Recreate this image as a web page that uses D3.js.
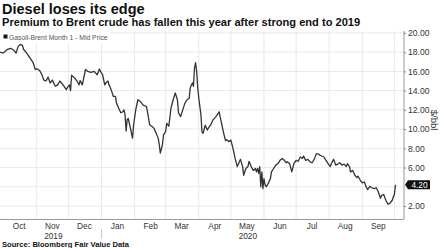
<!DOCTYPE html>
<html lang="en">
<head>
<meta charset="UTF-8">
<title>Diesel loses its edge</title>
<script src="https://d3js.org/d3.v7.min.js"></script>
<style>
  body { margin: 0; background: #fff; }
  text { font-family: "Liberation Sans", Arial, sans-serif; }
</style>
</head>
<body>
<svg width="441" height="248"></svg>
<script>
// Gasoil-Brent spread, $/bbl
const dates = [
  "2019-09-28","2019-10-01","2019-10-03","2019-10-05","2019-10-08","2019-10-11","2019-10-13","2019-10-15",
  "2019-10-17","2019-10-19","2019-10-20","2019-10-23","2019-10-26","2019-10-29","2019-10-31","2019-11-02",
  "2019-11-04","2019-11-06","2019-11-08","2019-11-10","2019-11-12","2019-11-14","2019-11-16","2019-11-18",
  "2019-11-19","2019-11-21","2019-11-23","2019-11-26","2019-11-29","2019-11-30","2019-12-02","2019-12-03",
  "2019-12-04","2019-12-07","2019-12-09","2019-12-11","2019-12-12","2019-12-14","2019-12-16","2019-12-17",
  "2019-12-19","2019-12-22","2019-12-25","2019-12-28","2019-12-30","2019-12-31","2020-01-02","2020-01-04",
  "2020-01-05","2020-01-07","2020-01-08","2020-01-10","2020-01-12","2020-01-14","2020-01-15","2020-01-17",
  "2020-01-19","2020-01-21","2020-01-22","2020-01-23","2020-01-24","2020-01-25","2020-01-26","2020-01-28",
  "2020-01-30","2020-01-31","2020-02-02","2020-02-04","2020-02-06","2020-02-09","2020-02-12","2020-02-13",
  "2020-02-15","2020-02-17","2020-02-19","2020-02-21","2020-02-23","2020-02-24","2020-02-25","2020-02-27",
  "2020-02-28","2020-03-01","2020-03-02","2020-03-04","2020-03-06","2020-03-08","2020-03-10","2020-03-12",
  "2020-03-13","2020-03-15","2020-03-17","2020-03-19","2020-03-21","2020-03-23","2020-03-24","2020-03-26",
  "2020-03-27","2020-03-28","2020-03-29","2020-03-30","2020-03-31","2020-04-01","2020-04-03","2020-04-04",
  "2020-04-05","2020-04-07","2020-04-09","2020-04-11","2020-04-12","2020-04-14","2020-04-17","2020-04-19",
  "2020-04-20","2020-04-22","2020-04-24","2020-04-26","2020-04-27","2020-04-29","2020-05-01","2020-05-03",
  "2020-05-05","2020-05-07","2020-05-09","2020-05-10","2020-05-12","2020-05-13","2020-05-15","2020-05-17",
  "2020-05-18","2020-05-20","2020-05-22","2020-05-24","2020-05-25","2020-05-26","2020-05-27","2020-05-28",
  "2020-05-29","2020-05-30","2020-05-31","2020-06-01","2020-06-02","2020-06-03","2020-06-05","2020-06-07",
  "2020-06-08","2020-06-10","2020-06-12","2020-06-14","2020-06-16","2020-06-18","2020-06-20","2020-06-22",
  "2020-06-23","2020-06-25","2020-06-27","2020-06-29","2020-07-01","2020-07-03","2020-07-05","2020-07-07",
  "2020-07-08","2020-07-10","2020-07-12","2020-07-14","2020-07-16","2020-07-18","2020-07-20","2020-07-22",
  "2020-07-23","2020-07-25","2020-07-27","2020-07-29","2020-07-31","2020-08-02","2020-08-03","2020-08-05",
  "2020-08-06","2020-08-07","2020-08-09","2020-08-11","2020-08-13","2020-08-15","2020-08-17","2020-08-18",
  "2020-08-20","2020-08-21","2020-08-23","2020-08-25","2020-08-27","2020-08-28","2020-08-30","2020-09-01",
  "2020-09-03","2020-09-04","2020-09-06","2020-09-08","2020-09-10","2020-09-12","2020-09-14","2020-09-16",
  "2020-09-18","2020-09-19","2020-09-21","2020-09-23","2020-09-25","2020-09-27","2020-09-29","2020-09-30",
  "2020-10-01","2020-10-02"
];
const values = [
  18.0, 17.9, 18.1, 18.3, 18.4, 18.2, 17.9, 18.6,
  18.8, 18.7, 18.3, 17.9, 17.4, 16.9, 16.2, 16.25,
  16.1, 15.7, 15.1, 15.0, 15.4, 14.8, 15.1, 14.6,
  14.45, 14.6, 15.0, 14.6, 14.1, 14.3, 14.6, 14.0,
  15.6, 15.3, 15.0, 14.6, 15.05, 14.6, 15.65, 16.2,
  16.0, 15.9, 16.0, 15.65, 16.25, 16.0, 15.65, 14.6,
  14.8, 15.0, 14.6, 14.1, 13.4, 13.4, 12.7, 12.2,
  11.7, 11.8, 12.0, 11.5, 9.8, 11.0, 11.1, 10.1,
  9.06, 10.45, 12.0, 13.05, 12.9, 12.5, 12.35, 11.8,
  10.45, 10.3, 10.1, 9.6, 9.06, 8.4, 7.5, 8.4,
  9.4, 9.75, 10.6, 10.3, 12.2, 13.05, 13.75, 13.05,
  11.7, 11.3, 12.0, 12.7, 13.05, 13.2, 14.3, 14.8,
  14.45, 16.35, 16.9, 16.0, 14.3, 13.2, 11.5, 9.7,
  9.55, 10.4, 9.9, 10.3, 10.4, 10.9, 11.3, 11.6,
  11.8, 10.75, 9.7, 8.8, 8.9, 8.7, 8.85, 8.0,
  6.95, 6.1, 6.6, 6.85, 6.1, 5.2, 5.9, 6.1,
  6.65, 6.1, 5.7, 5.9, 5.55, 5.9, 5.4, 6.1,
  4.0, 5.55, 3.8, 4.85, 4.2, 4.0, 4.35, 4.85,
  5.55, 5.9, 6.25, 6.4, 6.75, 6.95, 6.75, 6.5,
  6.6, 6.4, 5.55, 6.4, 6.75, 6.65, 7.1, 6.95,
  7.2, 6.75, 6.85, 6.6, 6.5, 6.85, 7.45, 7.4,
  7.3, 7.2, 7.1, 6.75, 6.4, 6.1, 6.4, 6.85,
  6.6, 6.25, 6.35, 6.5, 6.25, 6.35, 6.1, 6.4,
  6.1, 5.55, 5.7, 5.2, 4.95, 5.1, 4.7, 4.4,
  4.5, 4.15, 3.7, 4.05, 3.9, 3.8, 3.9, 3.45,
  2.8, 3.1, 3.2, 2.6, 2.2, 2.3, 2.6, 2.95,
  3.2, 4.2
];

const yTicks = [2, 4, 6, 8, 10, 12, 14, 16, 18, 20];
// the 4.00 label sits under the last-value tag, so it is not drawn
const yTickLabels = [2, 6, 8, 10, 12, 14, 16, 18, 20];
const monthLabels = ["Oct", "Nov", "Dec", "Jan", "Feb", "Mar", "Apr", "May", "Jun", "Jul", "Aug", "Sep"];
const yearLabels = [{ text: "2019", month: 1 }, { text: "2020", month: 7 }];
const lastLabel = "4.20";

const title = "Diesel loses its edge";
const subtitle = "Premium to Brent crude has fallen this year after strong end to 2019";
const legendLabel = "Gasoil-Brent Month 1 - Mid Price";
const unitLabel = "$/bbl";
const source = "Source: Bloomberg Fair Value Data";

const parse = d3.timeParse("%Y-%m-%d");
const data = dates.map((d, i) => ({ date: parse(d), value: values[i] }));

const plot = { left: 0, right: 404, top: 31, bottom: 219 };
const svg = d3.select("svg");

const x = d3.scaleTime()
    .domain([parse("2019-09-28"), parse("2020-10-10")])
    .range([plot.left, plot.right]);

const y = d3.scaleLinear()
    .domain([0.65, 20.2])
    .range([plot.bottom, plot.top]);

// titles
svg.append("text").attr("x", 2).attr("y", 13.5)
    .attr("font-size", 14.5).attr("font-weight", "bold").attr("fill", "#111")
    .text(title);
svg.append("text").attr("x", 2).attr("y", 26)
    .attr("font-size", 11.1).attr("font-weight", "bold").attr("fill", "#111")
    .text(subtitle);

// grid
const monthStarts = d3.timeMonth.range(parse("2019-11-01"), parse("2020-10-02"));
svg.append("g").selectAll("line").data(monthStarts).join("line")
    .attr("x1", d => x(d)).attr("x2", d => x(d))
    .attr("y1", plot.top).attr("y2", plot.bottom)
    .attr("stroke", "#e8e8e8").attr("stroke-width", 1);
svg.append("g").selectAll("line").data(yTicks).join("line")
    .attr("x1", plot.left).attr("x2", plot.right)
    .attr("y1", d => y(d)).attr("y2", d => y(d))
    .attr("stroke", "#e8e8e8").attr("stroke-width", 1);

// right axis
const yAxis = svg.append("g")
    .attr("transform", `translate(${plot.right},0)`)
    .call(d3.axisRight(y).tickValues(yTickLabels).tickFormat(d3.format(".2f")).tickSize(2).tickPadding(2));
yAxis.select(".domain").attr("stroke", "#999").attr("d", `M0,${plot.top}V${plot.bottom}`);
yAxis.selectAll(".tick line").attr("stroke", "#888");
yAxis.selectAll(".tick text").attr("font-size", 8.6).attr("fill", "#333")
    .attr("font-family", "Liberation Sans, Arial, sans-serif");

svg.append("text")
    .attr("transform", `translate(431,120) rotate(90)`)
    .attr("text-anchor", "middle").attr("font-size", 9.5).attr("fill", "#333")
    .text(unitLabel);

// bottom axis
svg.append("line")
    .attr("x1", plot.left).attr("x2", plot.right)
    .attr("y1", plot.bottom + 0.5).attr("y2", plot.bottom + 0.5)
    .attr("stroke", "#999");

const monthMids = d3.timeMonth.range(parse("2019-10-01"), parse("2020-10-01"))
    .map(d => d3.timeDay.offset(d, 15));
svg.append("g").selectAll("text").data(monthLabels).join("text")
    .attr("x", (d, i) => x(monthMids[i]))
    .attr("y", 229)
    .attr("text-anchor", "middle").attr("font-size", 8.3).attr("fill", "#333")
    .text(d => d);
svg.append("g").selectAll("text").data(yearLabels).join("text")
    .attr("x", d => x(monthMids[d.month]) + 1)
    .attr("y", 238.5)
    .attr("text-anchor", "middle").attr("font-size", 8.3).attr("fill", "#333")
    .text(d => d.text);
svg.append("line")
    .attr("x1", x(parse("2020-01-01"))).attr("x2", x(parse("2020-01-01")))
    .attr("y1", 229).attr("y2", 239)
    .attr("stroke", "#ccc");

// series line
const line = d3.line().x(d => x(d.date)).y(d => y(d.value));
svg.append("path")
    .datum(data)
    .attr("fill", "none")
    .attr("stroke", "#333")
    .attr("stroke-width", 1.3)
    .attr("stroke-linejoin", "round")
    .attr("d", line);

// legend
svg.append("rect").attr("x", 0).attr("y", plot.top).attr("width", 110).attr("height", 12)
    .attr("fill", "#fff");
svg.append("rect").attr("x", 3.5).attr("y", 34.5).attr("width", 4).attr("height", 4)
    .attr("fill", "#111");
svg.append("text").attr("x", 9).attr("y", 39.5)
    .attr("font-size", 6.8).attr("fill", "#555")
    .text(legendLabel);

// last value tag
const last = data[data.length - 1];
const ly = y(last.value);
const tag = svg.append("g").attr("transform", `translate(${plot.right + 1},${ly})`);
tag.append("path")
    .attr("d", "M0,0 L3,-4.5 H25 V4.5 H3 Z")
    .attr("fill", "#111");
tag.append("text")
    .attr("x", 14.5).attr("y", 3)
    .attr("text-anchor", "middle").attr("font-size", 8.3).attr("fill", "#fff")
    .text(lastLabel);

// source
svg.append("text").attr("x", 2).attr("y", 246.5)
    .attr("font-size", 7.6).attr("font-weight", "bold").attr("fill", "#111")
    .text(source);
</script>
</body>
</html>
